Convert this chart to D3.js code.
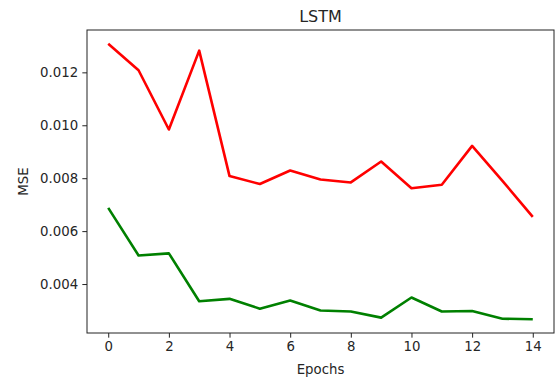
<!DOCTYPE html>
<html>
<head>
<meta charset="utf-8">
<script src="https://cdn.jsdelivr.net/npm/d3@7"></script>
<style>
  html, body { margin: 0; padding: 0; background: #fff; }
  svg { display: block; font-family: "DejaVu Sans", sans-serif; }
</style>
</head>
<body>
<svg id="chart" width="555" height="380"></svg>
<script>
// ---- data ----
const epochs = [0, 1, 2, 3, 4, 5, 6, 7, 8, 9, 10, 11, 12, 13, 14];
const mseRed = [0.01308, 0.01208, 0.00984, 0.01282, 0.00808, 0.00778, 0.00829, 0.00795, 0.00784, 0.00863, 0.00762, 0.00775, 0.00922, 0.00790, 0.00654];
const mseGreen = [0.00688, 0.00508, 0.00516, 0.00335, 0.00344, 0.00307, 0.00338, 0.00300, 0.00296, 0.00273, 0.00349, 0.00296, 0.00298, 0.00269, 0.00267];
const xTicks = [0, 2, 4, 6, 8, 10, 12, 14];
const yTicks = [0.004, 0.006, 0.008, 0.010, 0.012];
const titleText = "LSTM";
const xLabel = "Epochs";
const yLabel = "MSE";

(function () {
// ---- layout ----
const svg = d3.select("#chart");
const mLeft = 87, mRight = 554, mTop = 30, mBottom = 333;
const tickLen = 4.67, tickPad = 4.2;
const textColor = "#262626";

function padded(ext) {
  const m = (ext[1] - ext[0]) * 0.05;
  return [ext[0] - m, ext[1] + m];
}
const x = d3.scaleLinear().domain(padded(d3.extent(epochs))).range([mLeft, mRight]);
const allY = mseRed.concat(mseGreen);
const y = d3.scaleLinear().domain(padded(d3.extent(allY))).range([mBottom, mTop]);

// axes
const xAxis = svg.append("g")
  .attr("transform", `translate(0,${mBottom})`)
  .call(d3.axisBottom(x).tickValues(xTicks).tickFormat(d3.format("d"))
    .tickSize(tickLen).tickPadding(tickPad).tickSizeOuter(0));
const yAxis = svg.append("g")
  .attr("transform", `translate(${mLeft},0)`)
  .call(d3.axisLeft(y).tickValues(yTicks).tickFormat(d3.format(".3f"))
    .tickSize(tickLen).tickPadding(tickPad).tickSizeOuter(0));

[xAxis, yAxis].forEach(g => {
  g.select(".domain").remove();
  g.selectAll(".tick line").attr("stroke", "#222").attr("stroke-width", 1);
  g.selectAll(".tick text").attr("fill", textColor)
    .style("font-family", "'DejaVu Sans', sans-serif").style("font-size", "13.3px");
});

// frame
svg.append("rect")
  .attr("x", mLeft).attr("y", mTop)
  .attr("width", mRight - mLeft).attr("height", mBottom - mTop)
  .attr("fill", "none").attr("stroke", "#222").attr("stroke-width", 1);

// lines
const line = d3.line().x((d, i) => x(epochs[i])).y(d => y(d));
svg.append("path").datum(mseRed)
  .attr("d", line).attr("fill", "none")
  .attr("stroke", "#ff0000").attr("stroke-width", 2.6).attr("stroke-linejoin", "round");
svg.append("path").datum(mseGreen)
  .attr("d", line).attr("fill", "none")
  .attr("stroke", "#008000").attr("stroke-width", 2.6).attr("stroke-linejoin", "round");

// title & labels
svg.append("text")
  .attr("x", (mLeft + mRight) / 2).attr("y", 21.5)
  .attr("text-anchor", "middle").attr("fill", textColor)
  .style("font-size", "16px").text(titleText);
svg.append("text")
  .attr("x", (mLeft + mRight) / 2).attr("y", 373.5)
  .attr("text-anchor", "middle").attr("fill", textColor)
  .style("font-size", "13.3px").text(xLabel);
svg.append("text")
  .attr("transform", `translate(27.5,${(mTop + mBottom) / 2}) rotate(-90)`)
  .attr("text-anchor", "middle").attr("fill", textColor)
  .style("font-size", "13.3px").text(yLabel);
})();
</script>
</body>
</html>
